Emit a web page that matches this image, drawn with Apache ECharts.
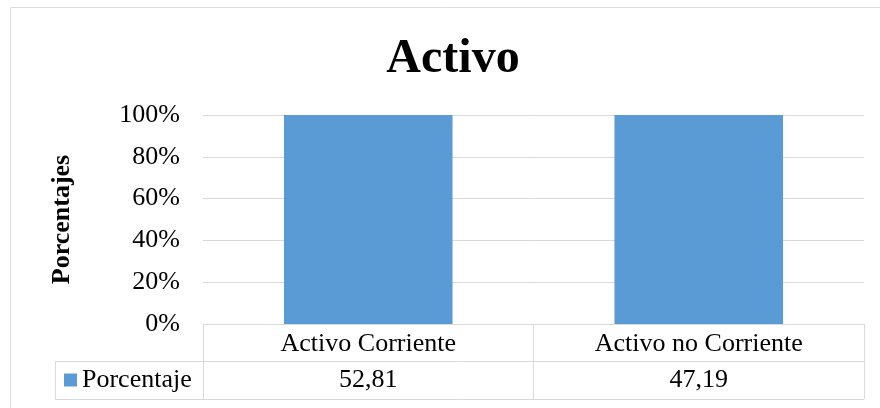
<!DOCTYPE html>
<html>
<head>
<meta charset="utf-8">
<script src="https://cdn.jsdelivr.net/npm/echarts@6/dist/echarts.min.js"></script>
<style>html,body{margin:0;padding:0;background:#fff}#c{width:880px;height:408px}</style>
</head>
<body>
<div id="c"></div>
<script>
// ---- data ----
const titleText = "Activo";
const categories = ["Activo Corriente", "Activo no Corriente"];
const seriesName = "Porcentaje";
const seriesValues = [52.81, 47.19];
const yAxisName = "Porcentajes";
const yTicks = [0, 0.2, 0.4, 0.6, 0.8, 1];

// 100% stacked: each value as a share of the category total (single series)
const allSeries = [seriesValues];
const totals = categories.map((_, i) => allSeries.reduce((s, arr) => s + arr[i], 0));
const pctValues = seriesValues.map((v, i) => v / totals[i]);
const tableValues = seriesValues.map(v => v.toFixed(2).replace('.', ','));

// ---- layout ----
const FONT = '"Liberation Serif", "Times New Roman", serif';
const gL = 203, gR = 864, gT = 115, gB = 324;
const row1B = 361, row2B = 399, tableL = 55;
const lineCol = '#d9d9d9';

const chart = echarts.init(document.getElementById('c'), null, {renderer: 'canvas'});
chart.setOption({
  animation: false,
  backgroundColor: '#fff',
  title: {
    text: titleText, left: 448, top: 31, textAlign: 'center',
    textStyle: {fontFamily: FONT, fontSize: 48, fontWeight: 'bold', color: '#000'}
  },
  legend: {
    data: [seriesName], left: 64, top: 367, icon: 'rect', padding: 0,
    itemWidth: 13, itemHeight: 13, itemGap: 0,
    textStyle: {fontFamily: FONT, fontSize: 26, color: '#000', lineHeight: 14, padding: [0,0,0,0]}
  },
  grid: {left: gL, right: 880 - gR, top: gT, bottom: 408 - gB, containLabel: false},
  xAxis: [{
    type: 'category', data: categories, position: 'bottom',
    axisLine: {show: true, lineStyle: {color: lineCol, width: 1}},
    axisTick: {show: true, interval: 0, length: row2B - gB, lineStyle: {color: lineCol}},
    axisLabel: {fontFamily: FONT, fontSize: 26, color: '#000', margin: 7, interval: 0}
  }, {
    type: 'category', data: tableValues, position: 'bottom', offset: row1B - gB,
    axisLine: {show: false}, axisTick: {show: false},
    axisLabel: {fontFamily: FONT, fontSize: 26, color: '#000', margin: 6, interval: 0}
  }],
  yAxis: {
    type: 'value', min: 0, max: 1, interval: 0.2,
    name: yAxisName, nameLocation: 'middle', nameRotate: 90, nameGap: 128,
    nameTextStyle: {fontFamily: FONT, fontSize: 26, fontWeight: 'bold', color: '#000'},
    axisLine: {show: false}, axisTick: {show: false},
    splitLine: {lineStyle: {color: lineCol, width: 1}},
    axisLabel: {fontFamily: FONT, fontSize: 26, color: '#000', margin: 23,
      formatter: v => Math.round(v * 100) + '%'}
  },
  series: [{
    name: seriesName, type: 'bar', data: pctValues, barWidth: '51%', stack: 'total',
    itemStyle: {color: '#5B9BD5'}
  }],
  graphic: [
    {type: 'rect', shape: {x: 10.5, y: 7.5, width: 900, height: 500}, style: {fill: 'none', stroke: '#d9dde4', lineWidth: 1}, silent: true},
    {type: 'line', shape: {x1: tableL, y1: row1B + 0.5, x2: gR, y2: row1B + 0.5}, style: {stroke: lineCol, lineWidth: 1}, silent: true},
    {type: 'line', shape: {x1: tableL, y1: row2B + 0.5, x2: gR, y2: row2B + 0.5}, style: {stroke: lineCol, lineWidth: 1}, silent: true},
    {type: 'line', shape: {x1: tableL + 0.5, y1: row1B, x2: tableL + 0.5, y2: row2B}, style: {stroke: lineCol, lineWidth: 1}, silent: true}
  ]
});
</script>
</body>
</html>
